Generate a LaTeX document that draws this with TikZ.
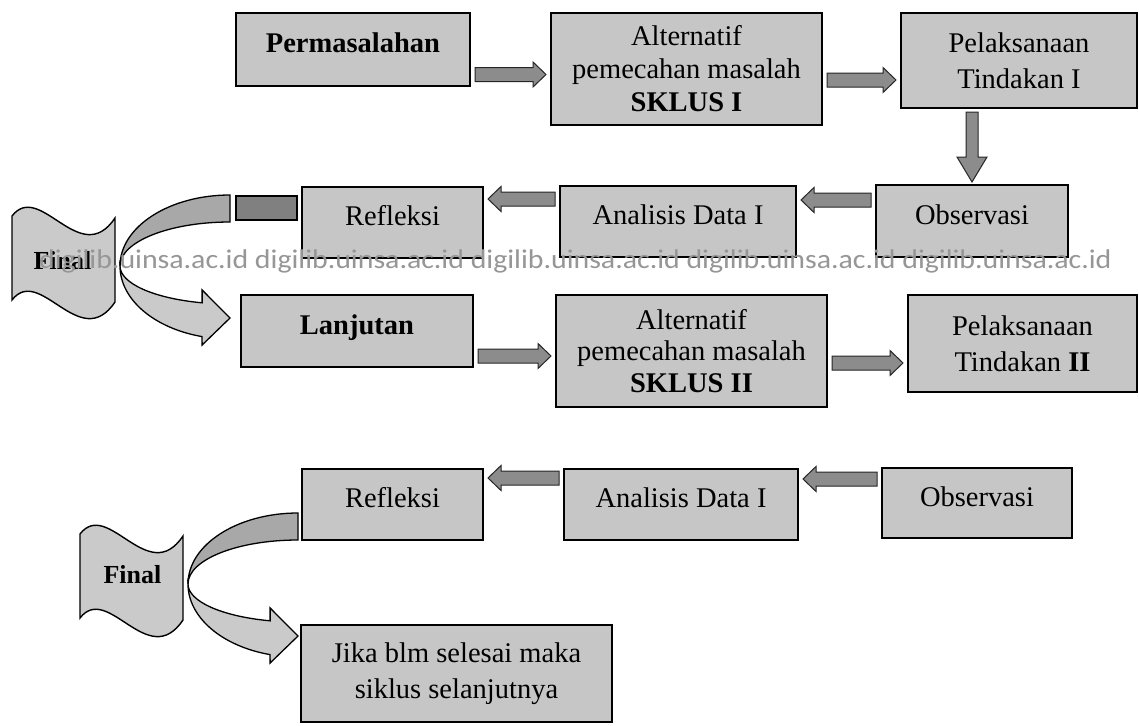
\documentclass[tikz,border=0pt]{standalone}
\usepackage{fontspec}
\usepackage{graphicx}
\setmainfont{Liberation Serif}
\newfontfamily\wmfont{Carlito}
\usetikzlibrary{calc}
\definecolor{boxfill}{RGB}{198,198,198}
\definecolor{arrfill}{RGB}{140,140,140}
\definecolor{darkfill}{RGB}{128,128,128}
\definecolor{bandfront}{RGB}{202,202,202}
\definecolor{bandback}{RGB}{168,168,168}
\definecolor{flagfill}{RGB}{202,202,202}
\definecolor{wmgray}{RGB}{150,150,150}
\newcommand\tl[1]{\raisebox{-3pt}[0pt][0pt]{#1}}
\tikzset{
  box/.style={draw=black, line width=1.8pt, fill=boxfill, anchor=north west,
    inner sep=0pt, outer sep=0pt, align=center, font=\fontsize{28.5}{33}\selectfont},
  twoline/.style={font=\fontsize{28.5}{36}\selectfont},
  barr/.style={draw=black!85, line width=1pt, fill=arrfill},
  flagshape/.style={draw=black, line width=1.4pt, fill=flagfill},
  bandf/.style={draw=black, line width=1.3pt, fill=bandfront},
  bandb/.style={draw=black, line width=1.3pt, fill=bandback},
  finaltext/.style={font=\fontsize{26}{30}\selectfont\bfseries, inner sep=0pt},
}
% horizontal block arrow pointing right: from node #1 to node #2 at height #3
\newcommand\rarr[3]{%
  \filldraw[barr] let \p1=(#1.east), \p2=(#2.west) in
  (\x1+5pt,-#3pt+7pt) -- (\x2-18pt,-#3pt+7pt) -- (\x2-18pt,-#3pt+12.5pt) --
  (\x2-5pt,-#3pt) -- (\x2-18pt,-#3pt-12.5pt) -- (\x2-18pt,-#3pt-7pt) --
  (\x1+5pt,-#3pt-7pt) -- cycle;}
% horizontal block arrow pointing left: from node #1 (right) to node #2 (left)
\newcommand\larr[3]{%
  \filldraw[barr] let \p1=(#1.west), \p2=(#2.east) in
  (\x1-5pt,-#3pt+7pt) -- (\x2+18pt,-#3pt+7pt) -- (\x2+18pt,-#3pt+12.5pt) --
  (\x2+5pt,-#3pt) -- (\x2+18pt,-#3pt-12.5pt) -- (\x2+18pt,-#3pt-7pt) --
  (\x1-5pt,-#3pt-7pt) -- cycle;}
% final flag + curved arrow group
\newcommand\finalgroup[2]{%
  \begin{scope}[shift={(#1,#2)}]
    \filldraw[flagshape] (12,216) .. controls (40,180) and (80,270) .. (115,218)
      -- (115,302) .. controls (80,354) and (40,264) .. (12,300) -- cycle;
    \filldraw[bandb] (230,195) arc[start angle=270, end angle=180, x radius=110, y radius=71]
      arc[start angle=180, end angle=270, x radius=110, y radius=44] -- cycle;
    \filldraw[bandf] (120,266) arc[start angle=180, end angle=104.7, x radius=110, y radius=73]
      -- (202.1,345) -- (230,318) -- (202.1,290) -- (202.1,302.8)
      arc[start angle=104.7, end angle=180, x radius=110, y radius=38] -- cycle;
  \end{scope}}
\begin{document}
\begin{tikzpicture}[x=1pt,y=-1pt]
\useasboundingbox (0,0) rectangle (1139,725);
\fill[white] (0,0) rectangle (1139,725);

% row 1
\node[box, minimum width=234pt, minimum height=73pt] (perm) at (236,13) {\tl{\textbf{Permasalahan}}};
\node[box, minimum width=271pt, minimum height=112pt] (alt1) at (551,13) {Alternatif\\pemecahan masalah\\\textbf{SKLUS I}};
\node[box, twoline, minimum width=236pt, minimum height=95pt] (pel1) at (901,13) {Pelaksanaan\\Tindakan I};

% row 2
\node[box, minimum width=181pt, minimum height=71pt] (ref1) at (302,187) {\tl{Refleksi}};
\node[box, minimum width=236pt, minimum height=71pt] (ana1) at (560,186) {\tl{Analisis Data I}};
\node[box, minimum width=192pt, minimum height=72pt] (obs1) at (876,185) {\tl{Observasi}};

% row 3
\node[box, minimum width=232pt, minimum height=72pt] (lanj) at (241,295) {\tl{\textbf{Lanjutan}}};
\node[box, minimum width=271pt, minimum height=112pt, font=\fontsize{28.5}{31.5}\selectfont] (alt2) at (556,295) {Alternatif\\pemecahan masalah\\\textbf{SKLUS II}};
\node[box, twoline, minimum width=229pt, minimum height=97pt] (pel2) at (908,295) {Pelaksanaan\\Tindakan \textbf{II}};

% row 4
\node[box, minimum width=181pt, minimum height=71pt] (ref2) at (302,469) {\tl{Refleksi}};
\node[box, minimum width=234pt, minimum height=71pt] (ana2) at (564,469) {\tl{Analisis Data I}};
\node[box, minimum width=190pt, minimum height=70pt] (obs2) at (882,468) {\tl{Observasi}};

% final box
\node[box, twoline, minimum width=311pt, minimum height=97pt] (jika) at (301,625) {Jika blm selesai maka\\siklus selanjutnya};

% block arrows
\rarr{perm}{alt1}{74.5}
\rarr{alt1}{pel1}{80}
\filldraw[barr] let \p1=(pel1.south), \p2=(obs1.north) in
  (\x2-6pt,\y1-4pt) -- (\x2-6pt,\y2+28pt) -- (\x2-15pt,\y2+28pt) -- (\x2,\y2+3pt) --
  (\x2+15pt,\y2+28pt) -- (\x2+6pt,\y2+28pt) -- (\x2+6pt,\y1-4pt) -- cycle;
\larr{obs1}{ana1}{200}
\larr{ana1}{ref1}{199}
\rarr{lanj}{alt2}{356}
\rarr{alt2}{pel2}{363}
\larr{obs2}{ana2}{479}
\larr{ana2}{ref2}{478}

% stub from Refleksi (row 2)
\filldraw[draw=black, line width=1.3pt, fill=darkfill] (236,196) rectangle (297,220);

% final groups with curved arrows
\finalgroup{0}{0}
\finalgroup{68}{318}
\node[finaltext] (fin1) at (62.5,260.5) {Final};
\node[finaltext] (fin2) at (132.5,575) {Final};

% watermark
\node[anchor=base west, inner sep=0pt, text=wmgray] (wm) at (39,268)
  {\resizebox{1073pt}{\height}{\wmfont\fontsize{27}{30}\selectfont digilib.uinsa.ac.id digilib.uinsa.ac.id digilib.uinsa.ac.id digilib.uinsa.ac.id digilib.uinsa.ac.id}};
\end{tikzpicture}
\end{document}
